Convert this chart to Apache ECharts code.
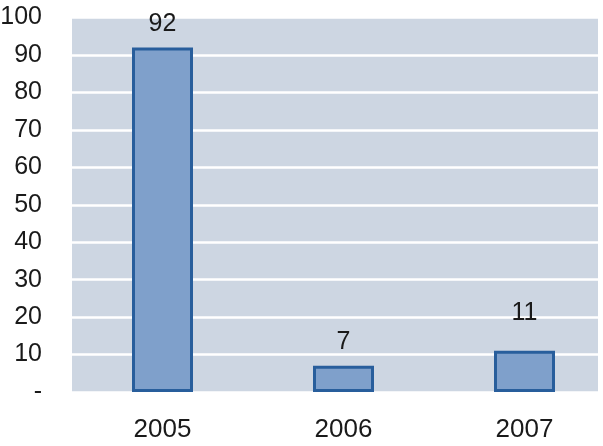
<!DOCTYPE html>
<html>
<head>
<meta charset="utf-8">
<script src="https://cdn.jsdelivr.net/npm/echarts@6/dist/echarts.min.js"></script>
<style>
  html, body { margin: 0; padding: 0; background: #fff; }
  #chart { width: 603px; height: 446px; }
</style>
</head>
<body>
<div id="chart"></div>
<script>
const years = ['2005', '2006', '2007']
const values = [92, 7, 11]

const chart = echarts.init(document.getElementById('chart'))

// the 2007 label sits higher than the others in the original
const seriesData = values.map((v, i) => i === 2 ? { value: v, label: { offset: [0, -14] } } : v)

const option = {
  animation: false,
  grid: {
    left: 72,
    top: 17.5,
    right: -12,
    bottom: 54,
    outerBoundsMode: 'none',
    containLabel: false,
    show: true,
    backgroundColor: '#cdd6e2',
    borderWidth: 0
  },
  xAxis: {
    type: 'category',
    data: years,
    axisLine: { show: false },
    axisTick: { show: false },
    axisLabel: {
      color: '#1a1a1a',
      fontFamily: 'Liberation Sans',
      fontSize: 26,
      margin: 25
    }
  },
  yAxis: {
    type: 'value',
    min: 0,
    max: 100,
    interval: 10,
    axisLine: { show: false },
    axisTick: { show: false },
    axisLabel: {
      color: '#1a1a1a',
      fontFamily: 'Liberation Sans',
      fontSize: 25,
      margin: 30,
      formatter: (v) => v === 0 ? '-' : String(v)
    },
    splitLine: {
      lineStyle: { color: '#ffffff', width: 2.5 }
    }
  },
  series: [{
    type: 'bar',
    data: seriesData,
    barWidth: 61,
    itemStyle: {
      color: '#7fa0cb',
      borderColor: '#285e9c',
      borderWidth: 3
    },
    label: {
      show: true,
      position: 'top',
      distance: 11,
      color: '#1a1a1a',
      fontFamily: 'Liberation Sans',
      fontSize: 25
    }
  }],
  graphic: [{
    type: 'rect',
    right: 0,
    top: 0,
    shape: { width: 5, height: 446 },
    style: { fill: '#ffffff' },
    z: 100
  }]
}

chart.setOption(option)
</script>
</body>
</html>
